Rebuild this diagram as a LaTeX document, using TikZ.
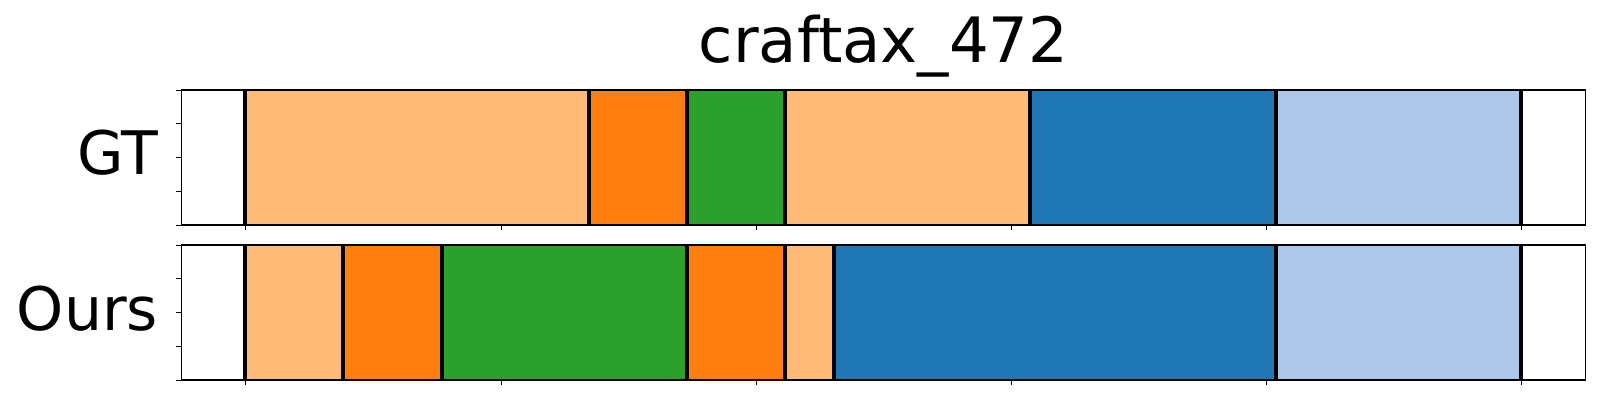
\documentclass[tikz,border=0pt]{standalone}
\usepackage{fontspec}
\setmainfont{DejaVu Sans}
\usepackage{tikz}
\usetikzlibrary{arrows}
\definecolor{tabblue}{HTML}{1F77B4}
\definecolor{tablightblue}{HTML}{AEC7E8}
\definecolor{taborange}{HTML}{FF7F0E}
\definecolor{tablightorange}{HTML}{FFBB78}
\definecolor{tabgreen}{HTML}{2CA02C}

\begin{document}
\begin{tikzpicture}[line cap=butt,line join=miter,x=1pt,y=-1pt,
  bound/.style={line width=3.6pt,black},
  frame/.style={line width=1.2pt,black},
  tickmark/.style={line width=1pt,black},
  rowlabel/.style={anchor=base east,inner sep=0pt,font=\fontsize{60}{72}\selectfont}]
\useasboundingbox (0,0) rectangle (1600,400);

% title
\node[anchor=base,inner sep=0pt,font=\fontsize{62.5}{75}\selectfont] (title) at (883.5,62) {craftax\_472};

% GT row
\fill[tablightorange] (244.8,90) rectangle (589,225);
\fill[taborange] (589,90) rectangle (687,225);
\fill[tabgreen] (687,90) rectangle (785,225);
\fill[tablightorange] (785,90) rectangle (1030,225);
\fill[tabblue] (1030,90) rectangle (1276,225);
\fill[tablightblue] (1276,90) rectangle (1521,225);

\foreach \bx in {244.8,589,687,785,1030,1276,1521}
  \draw[bound] (\bx,90) -- (\bx,225);

% Ours row
\fill[tablightorange] (244.8,245) rectangle (342.7,380);
\fill[taborange] (342.7,245) rectangle (441.7,380);
\fill[tabgreen] (441.7,245) rectangle (687,380);
\fill[taborange] (687,245) rectangle (785,380);
\fill[tablightorange] (785,245) rectangle (834,380);
\fill[tabblue] (834,245) rectangle (1276,380);
\fill[tablightblue] (1276,245) rectangle (1521,380);

\foreach \bx in {244.8,342.7,441.7,687,785,834,1276,1521}
  \draw[bound] (\bx,245) -- (\bx,380);

% axes frames
\draw[frame] (181.3,90) rectangle (1585.7,225);
\draw[frame] (181.3,245) rectangle (1585.7,380);

% ticks
\foreach \ty in {90,123.75,157.5,191.25,225}
  \draw[tickmark] (181.3,\ty) -- (175.6,\ty);
\foreach \ty in {245,278.75,312.5,346.25,380}
  \draw[tickmark] (181.3,\ty) -- (175.6,\ty);
\foreach \tx in {245.7,501,756.3,1011.3,1266.3,1521.3} {
  \draw[tickmark] (\tx,225) -- (\tx,230);
  \draw[tickmark] (\tx,380) -- (\tx,385);
}

% row labels
\node[rowlabel] (gt) at (158.3,174) {GT};
\node[rowlabel] (ours) at (158.3,330) {Ours};

\end{tikzpicture}
\end{document}
